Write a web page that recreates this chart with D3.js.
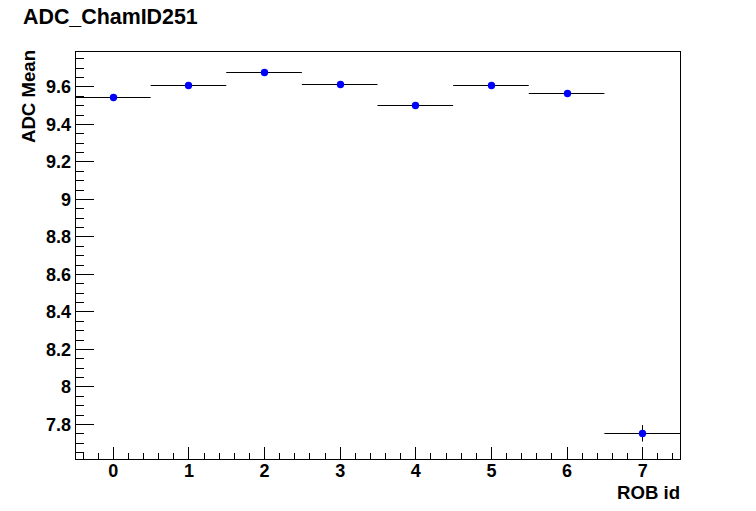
<!DOCTYPE html>
<html><head><meta charset="utf-8">
<script src="https://cdn.jsdelivr.net/npm/d3@7"></script>
<style>body{margin:0;background:#fff;} svg{display:block;}</style>
</head><body>
<script>
const robIds = [0, 1, 2, 3, 4, 5, 6, 7];
const adcMean = [9.542, 9.606, 9.677, 9.612, 9.500, 9.606, 9.564, 7.750];
const adcErr  = [0.006, 0.006, 0.006, 0.006, 0.006, 0.006, 0.006, 0.044];
const xTicks = [0, 1, 2, 3, 4, 5, 6, 7];
const yTicks = [7.8, 8, 8.2, 8.4, 8.6, 8.8, 9, 9.2, 9.4, 9.6];
const titleText = "ADC_ChamID251";
const xTitle = "ROB id";
const yTitle = "ADC Mean";

const W = 756, H = 511;
const L = 75, R = 680, T = 51, B = 459;
const svg = d3.select("body").append("svg").attr("width", W).attr("height", H);
svg.append("rect").attr("width", W).attr("height", H).attr("fill", "#fff");

const x = d3.scaleLinear().domain([-0.5, 7.5]).range([L, R]);
const y = d3.scaleLinear().domain([7.613, 9.789]).range([B, T]);
const font = "'Liberation Sans', Arial, Helvetica, sans-serif";

// frame
svg.append("rect").attr("x", L).attr("y", T).attr("width", R - L).attr("height", B - T)
  .attr("fill", "none").attr("stroke", "#000").attr("stroke-width", 1)
  .attr("shape-rendering", "crispEdges");

// y axis
const yMinor = d3.range(7.65, 9.79, 0.05).filter(v => !yTicks.some(t => Math.abs(t - v) < 1e-6));
const yAxis = d3.axisLeft(y).tickValues(yTicks).tickSize(-19).tickPadding(24)
  .tickFormat(d => d3.format("")(+d.toFixed(1)));
const gy = svg.append("g").attr("transform", `translate(${L},0)`).call(yAxis);
gy.select(".domain").remove();
gy.selectAll(".tick line").attr("shape-rendering", "crispEdges");
gy.selectAll("text").attr("font-family", font).attr("font-weight", "bold").attr("font-size", 18)
  .attr("fill", "#000").attr("x", -4).attr("dy", "0.36em");
const gyMin = svg.append("g").attr("transform", `translate(${L},0)`)
  .call(d3.axisLeft(y).tickValues(yMinor).tickSize(-9).tickFormat(""));
gyMin.select(".domain").remove();
gyMin.selectAll("line").attr("shape-rendering", "crispEdges");

// x axis
const xMinor = d3.range(-0.4, 7.5, 0.2).filter(v => !xTicks.some(t => Math.abs(t - v) < 1e-6));
const gx = svg.append("g").attr("transform", `translate(0,${B})`)
  .call(d3.axisBottom(x).tickValues(xTicks).tickSize(-12).tickFormat(d3.format("d")));
gx.select(".domain").remove();
gx.selectAll(".tick line").attr("shape-rendering", "crispEdges");
gx.selectAll("text").attr("font-family", font).attr("font-weight", "bold").attr("font-size", 18)
  .attr("fill", "#000").attr("y", 18).attr("dy", 0);
const gxMin = svg.append("g").attr("transform", `translate(0,${B})`)
  .call(d3.axisBottom(x).tickValues(xMinor).tickSize(-6).tickFormat(""));
gxMin.select(".domain").remove();
gxMin.selectAll("line").attr("shape-rendering", "crispEdges");

// data: horizontal bin-width bars, vertical error bars, markers
const pts = robIds.map((r, i) => ({ r, v: adcMean[i], e: adcErr[i] }));
const g = svg.append("g");
g.selectAll("line.h").data(pts).join("line").attr("class", "h")
  .attr("x1", d => x(d.r - 0.5)).attr("x2", d => x(d.r + 0.5))
  .attr("y1", d => Math.round(y(d.v)) + 0.5).attr("y2", d => Math.round(y(d.v)) + 0.5)
  .attr("stroke", "#000").attr("stroke-width", 1);
g.selectAll("line.v").data(pts).join("line").attr("class", "v")
  .attr("x1", d => Math.round(x(d.r)) + 0.5).attr("x2", d => Math.round(x(d.r)) + 0.5)
  .attr("y1", d => y(d.v + d.e)).attr("y2", d => y(d.v - d.e))
  .attr("stroke", "#000").attr("stroke-width", 1);
g.selectAll("circle").data(pts).join("circle")
  .attr("cx", d => Math.round(x(d.r)) + 0.5).attr("cy", d => Math.round(y(d.v)) + 0.5)
  .attr("r", 3.7).attr("fill", "#0000ff");

// titles
svg.append("text").attr("x", 23).attr("y", 24).text(titleText)
  .attr("font-family", font).attr("font-weight", "bold").attr("font-size", 21.4).attr("fill", "#000");
svg.append("text").attr("x", R).attr("y", 499).attr("text-anchor", "end").text(xTitle)
  .attr("font-family", font).attr("font-weight", "bold").attr("font-size", 18.6).attr("fill", "#000");
svg.append("text").attr("transform", `translate(35,${T - 1}) rotate(-90)`).attr("text-anchor", "end").text(yTitle)
  .attr("font-family", font).attr("font-weight", "bold").attr("font-size", 18.6).attr("fill", "#000");
</script>
</body></html>
